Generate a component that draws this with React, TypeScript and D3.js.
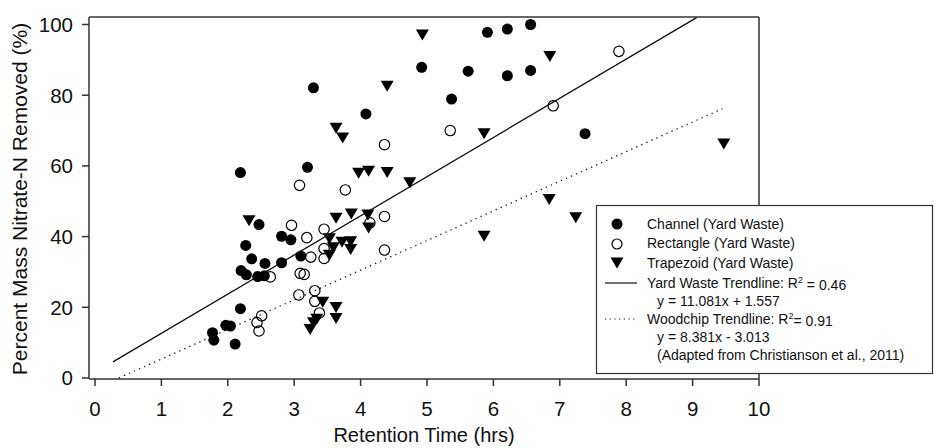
import React from "react";
import * as d3 from "d3";

// Retention time (hrs) and percent removed for each bioreactor shape
const channelX = [1.77, 1.79, 1.97, 2.04, 2.11, 2.19, 2.2, 2.28, 2.45, 2.55, 2.27, 2.36, 2.56, 2.81, 3.1, 2.47, 2.81, 2.95, 2.19, 3.2, 3.29, 4.08, 4.92, 5.37, 5.62, 5.91, 6.21, 6.21, 6.56, 6.56, 7.38];
const channelY = [12.8, 10.7, 14.9, 14.7, 9.6, 19.6, 30.4, 29.2, 28.7, 28.9, 37.5, 33.7, 32.4, 32.6, 34.5, 43.4, 40.1, 39.1, 58.1, 59.6, 82.1, 74.7, 87.9, 78.9, 86.8, 97.8, 98.7, 85.5, 100, 87, 69.1];

const rectangleX = [2.44, 2.47, 2.51, 2.64, 2.96, 3.08, 3.19, 3.07, 3.09, 3.15, 3.25, 3.31, 3.31, 3.38, 3.45, 3.45, 3.45, 3.77, 4.14, 4.36, 4.36, 4.36, 5.35, 6.9, 7.89];
const rectangleY = [15.7, 13.3, 17.6, 28.6, 43.2, 54.5, 39.7, 23.5, 29.6, 29.3, 34.2, 24.7, 21.7, 18.4, 42.1, 36.6, 33.8, 53.2, 43.9, 45.7, 36.2, 66.0, 70.0, 77.0, 92.4];

const trapezoidX = [2.32, 3.24, 3.29, 3.34, 3.43, 3.63, 3.63, 3.53, 3.59, 3.53, 3.72, 3.85, 3.85, 3.63, 3.86, 4.11, 4.12, 3.97, 4.12, 4.4, 4.74, 3.63, 3.73, 4.4, 4.93, 5.86, 5.86, 6.85, 6.84, 7.24, 9.47];
const trapezoidY = [44.8, 14.0, 15.9, 16.9, 21.7, 20.2, 17.1, 39.7, 37.1, 35.0, 38.7, 38.8, 36.6, 45.5, 46.7, 46.4, 42.7, 58.2, 58.8, 58.4, 55.5, 70.9, 68.2, 82.8, 97.3, 69.4, 40.4, 91.2, 50.8, 45.6, 66.5];

// trendlines: slope, intercept, x range drawn
const yardTrend = { slope: 11.081, intercept: 1.557, x0: 0.27, x1: 9.06 };
const woodTrend = { slope: 8.381, intercept: -3.013, x0: 0.36, x1: 9.45 };

const xTicks = [0, 1, 2, 3, 4, 5, 6, 7, 8, 9, 10];
const yTicks = [0, 20, 40, 60, 80, 100];

const legendItems = [
  "Channel (Yard Waste)",
  "Rectangle (Yard Waste)",
  "Trapezoid (Yard Waste)",
];

const width = 935;
const height = 448;
const font = "Arial, 'Liberation Sans', sans-serif";
const ink = "#111";

const x = d3.scaleLinear().domain([0, 10]).range([95, 759]);
const y = d3.scaleLinear().domain([0, 100]).range([378, 24.5]);
const frame = { left: 89, top: 17, right: 759, bottom: 379 };

const tri = "M-6.5,-4.5L6.5,-4.5L0,6.5Z";

const trendPath = (t: typeof yardTrend) =>
  d3.line()([
    [x(t.x0), y(t.slope * t.x0 + t.intercept)],
    [x(t.x1), y(t.slope * t.x1 + t.intercept)],
  ]) as string;

export default function App() {
  const channel = channelX.map((v, i) => [v, channelY[i]]);
  const rectangle = rectangleX.map((v, i) => [v, rectangleY[i]]);
  const trapezoid = trapezoidX.map((v, i) => [v, trapezoidY[i]]);

  return (
    <svg
      width={width}
      height={height}
      style={{ position: "absolute", left: 0, top: 0, background: "#fff" }}
      fontFamily={font}
    >
      {/* frame */}
      <line x1={frame.left} x2={frame.right} y1={frame.top} y2={frame.top} stroke="#333" strokeWidth={1.5} />
      <line x1={frame.right} x2={frame.right} y1={frame.top} y2={frame.bottom} stroke="#333" strokeWidth={1.5} />
      <line x1={frame.left} x2={frame.left} y1={frame.top} y2={frame.bottom} stroke="#333" strokeWidth={1.5} />
      <line x1={frame.left} x2={frame.right} y1={frame.bottom} y2={frame.bottom} stroke="#333" strokeWidth={1.5} />

      {/* y axis */}
      {yTicks.map(t => (
        <g key={"y" + t}>
          <line x1={frame.left - 7} x2={frame.left} y1={y(t)} y2={y(t)} stroke="#333" strokeWidth={1.5} />
          <text x={73} y={y(t)} dy="0.36em" textAnchor="end" fontSize={20.5} fill={ink}>
            {t}
          </text>
        </g>
      ))}
      {/* x axis */}
      {xTicks.map(t => (
        <g key={"x" + t}>
          <line x1={x(t)} x2={x(t)} y1={frame.bottom} y2={frame.bottom + 7} stroke="#333" strokeWidth={1.5} />
          <text x={x(t)} y={409} dy="0.36em" textAnchor="middle" fontSize={20.5} fill={ink}>
            {t}
          </text>
        </g>
      ))}
      <text x={424} y={442} textAnchor="middle" fontSize={20} fill={ink}>
        Retention Time (hrs)
      </text>
      <text
        transform={`translate(19,${(frame.top + frame.bottom) / 2 + 1}) rotate(-90)`}
        dy="0.36em"
        textAnchor="middle"
        fontSize={21}
        fill={ink}
      >
        Percent Mass Nitrate-N Removed (%)
      </text>

      {/* trendlines */}
      <path d={trendPath(yardTrend)} stroke={ink} strokeWidth={1.3} fill="none" />
      <path d={trendPath(woodTrend)} stroke={ink} strokeWidth={1.3} strokeDasharray="1.3,4.2" fill="none" />

      {/* points */}
      {channel.map((d, i) => (
        <circle key={"c" + i} cx={x(d[0])} cy={y(d[1])} r={5.5} fill="#000" />
      ))}
      {rectangle.map((d, i) => (
        <circle key={"r" + i} cx={x(d[0])} cy={y(d[1])} r={5.2} fill="none" stroke="#000" strokeWidth={1.2} />
      ))}
      {trapezoid.map((d, i) => (
        <path key={"t" + i} d={tri} transform={`translate(${x(d[0])},${y(d[1])})`} fill="#000" />
      ))}

      {/* legend */}
      <rect x={596.5} y={205.5} width={336} height={168} fill="#fff" stroke="#333" strokeWidth={1.2} />
      <circle cx={617} cy={224} r={5.5} fill="#000" />
      <circle cx={617} cy={244} r={5} fill="none" stroke="#000" strokeWidth={1.2} />
      <path d={tri} transform="translate(617,262)" fill="#000" />
      {legendItems.map((s, i) => (
        <text key={s} x={647} y={224 + i * 19.5} dy="0.35em" fontSize={14} fill={ink}>
          {s}
        </text>
      ))}
      <line x1={605} x2={637} y1={283} y2={283} stroke={ink} strokeWidth={1.2} />
      <text x={647} y={283} dy="0.35em" fontSize={14} fill={ink}>
        Yard Waste Trendline: R<tspan dy="-0.5em" fontSize={9}>2</tspan>
        <tspan dy="0.5em"> = 0.46</tspan>
      </text>
      <text x={657} y={301} dy="0.35em" fontSize={14} fill={ink}>
        y = 11.081x + 1.557
      </text>
      <line x1={605} x2={637} y1={319} y2={319} stroke={ink} strokeWidth={1.2} strokeDasharray="1.2,3.5" />
      <text x={647} y={319} dy="0.35em" fontSize={14} fill={ink}>
        Woodchip Trendline: R<tspan dy="-0.5em" fontSize={9}>2</tspan>
        <tspan dy="0.5em">= 0.91</tspan>
      </text>
      <text x={657} y={337} dy="0.35em" fontSize={14} fill={ink}>
        y = 8.381x - 3.013
      </text>
      <text x={657} y={355} dy="0.35em" fontSize={14} fill={ink}>
        (Adapted from Christianson et al., 2011)
      </text>
    </svg>
  );
}
